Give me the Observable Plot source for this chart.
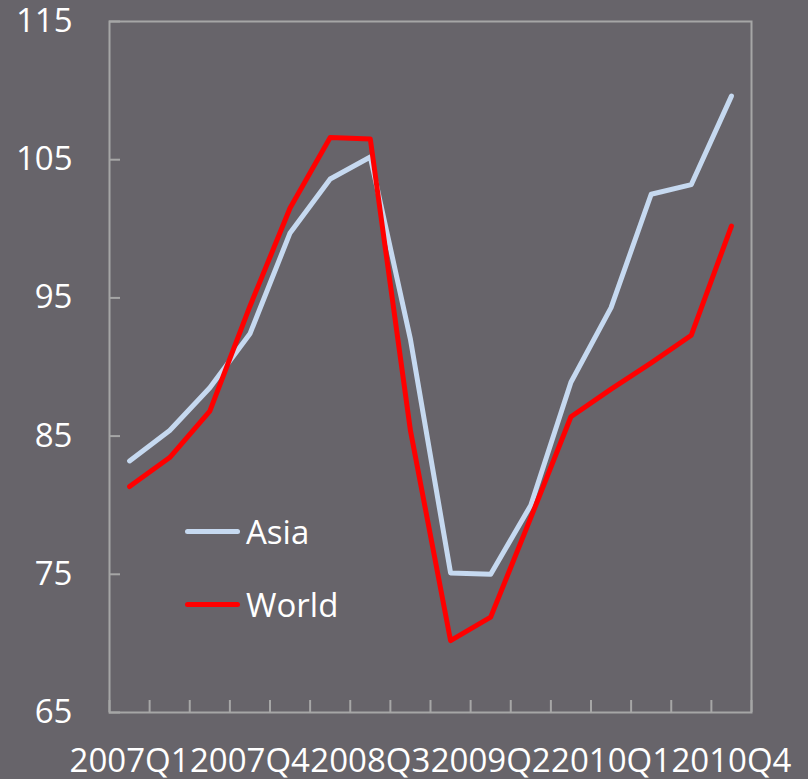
<!DOCTYPE html>
<html><head><meta charset="utf-8">
<script src="https://cdn.jsdelivr.net/npm/d3@7"></script>
<script src="https://cdn.jsdelivr.net/npm/@observablehq/plot@0.6"></script>
<style>
html,body{margin:0;padding:0;background:#67646a;}
#wrap{position:relative;width:808px;height:779px;overflow:hidden;}
.legend{position:absolute;left:185px;height:40px;font-family:"Open Sans",sans-serif;font-size:33px;color:#fff;display:flex;align-items:center;white-space:nowrap;}
.legend .sw{width:55px;height:5px;border-radius:3px;margin-right:6px;}
</style></head><body><div id="wrap"></div>
<script>
const quarters = ["2007Q1","2007Q2","2007Q3","2007Q4","2008Q1","2008Q2","2008Q3","2008Q4",
                  "2009Q1","2009Q2","2009Q3","2009Q4","2010Q1","2010Q2","2010Q3","2010Q4"];
const asia  = [83.2,85.4,88.5,92.4,99.7,103.6,105.2,92.0,75.1,75.0,80.0,88.9,94.3,102.5,103.2,109.6];
const world = [81.35,83.45,86.8,94.4,101.5,106.6,106.5,85.4,70.2,71.9,79.1,86.4,88.4,90.3,92.3,100.2];
const yTicks = [65,75,85,95,105,115];
const labelStep = 3;
const seriesNames = ["Asia","World"];
const seriesColors = ["#c6d9f0","#ff0000"];

const rows = quarters.map((q,i)=>({i, q, asia: asia[i], world: world[i]}));
const boundaries = d3.range(quarters.length+1).map(i=>i-0.5);
const labelIdx = d3.range(0, quarters.length, labelStep);
const axisColor = "#a6a6a6";

const chart = Plot.plot({
  width: 808, height: 779,
  marginLeft: 109, marginRight: 57, marginTop: 21, marginBottom: 67,
  style: {background: "transparent", fontFamily: "'Open Sans', sans-serif", fontSize: "33px", color: "#ffffff", overflow: "visible"},
  x: {domain: [-0.5, quarters.length-0.5]},
  y: {domain: [65,115]},
  marks: [
    Plot.frame({stroke: axisColor, strokeWidth: 2}),
    Plot.axisY(yTicks, {tickSize: -11, fill: "none", stroke: axisColor, strokeWidth: 2, label: null}),
    Plot.axisY(yTicks, {tickSize: 0, tickPadding: 37, fill: "#ffffff", label: null}),
    Plot.axisX(boundaries, {tickSize: -12, fill: "none", stroke: axisColor, strokeWidth: 2, label: null}),
    Plot.axisX(labelIdx, {tickSize: 0, tickPadding: 36, fill: "#ffffff", tickFormat: i=>quarters[i], label: null}),
    Plot.lineY(rows, {x: "i", y: "asia", stroke: seriesColors[0], strokeWidth: 5, strokeLinecap: "round", strokeLinejoin: "round"}),
    Plot.lineY(rows, {x: "i", y: "world", stroke: seriesColors[1], strokeWidth: 5, strokeLinecap: "round", strokeLinejoin: "round"})
  ]
});
const wrap = document.getElementById("wrap");
wrap.appendChild(chart);
const legendTops = [511, 584];
seriesNames.forEach((name,k)=>{
  const d = document.createElement("div");
  d.className = "legend";
  d.style.top = legendTops[k] + "px";
  d.innerHTML = `<span class="sw" style="background:${seriesColors[k]}"></span><span>${name}</span>`;
  wrap.appendChild(d);
});
</script>
</body></html>
